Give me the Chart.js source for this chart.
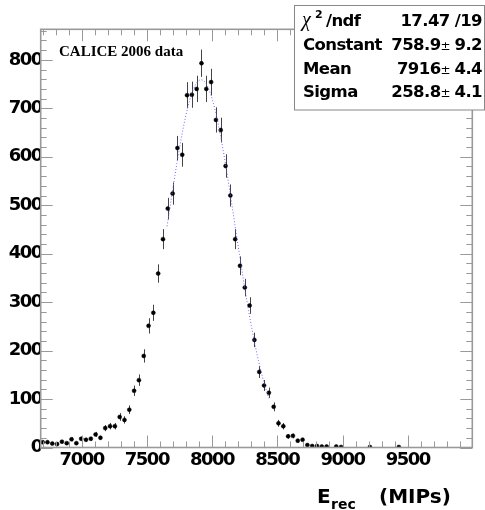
<!DOCTYPE html>
<html>
<head>
<meta charset="utf-8">
<script src="https://cdn.jsdelivr.net/npm/chart.js@4.4.1/dist/chart.umd.min.js"></script>
<style>
  html, body { margin: 0; padding: 0; background: #fff; }
  #wrap { width: 485px; height: 510px; position: relative; }
</style>
</head>
<body>
<div id="wrap"><canvas id="erec"></canvas></div>
<script>
// reconstructed energy, one entry per bin (empty bins are null)
var binFirst = 6701;
var binWidth = 36.9;
var counts = [
  11, 11, 8, 7, 12, 9, 17, 9, 18, 16,
  18, 27, 20, 40, 44, 44, 63, 57, 78, 117,
  139, 189, 251, 278, 359, 430, 493, 524, 618, 604,
  727, 728, 740, 793, 740, 754, 676, 655, 581, 520,
  430, 375, 330, 293, 222, 156, 128, 113, 84, 50,
  44, 23, 24, 14, 16, 5, 3, 3, 2, 2,
  null, 2, 1, null, null, null, null, null, 1, null,
  null, null, null, null, 1
];

var xTickLabels = [7000, 7500, 8000, 8500, 9000, 9500];
var yTickLabels = [0, 100, 200, 300, 400, 500, 600, 700, 800];

// gaus fit result
var fitConst = 758.9;
var fitMean = 7916;
var fitSigma = 258.8;
var fitFrom = 7655;
var fitTo = 8435;

var statRows = [
  ['Constant', '758.9', '9.2'],
  ['Mean', '7916', '4.4'],
  ['Sigma', '258.8', '4.1']
];
var chiText = '17.47 /19';

var histPoints = [];
counts.forEach(function (c, i) {
  if (c !== null) histPoints.push({ x: binFirst + i * binWidth, y: c });
});

var fitPoints = [];
for (var e = fitFrom; e <= fitTo; e += 5) {
  var d = (e - fitMean) / fitSigma;
  fitPoints.push({ x: e, y: fitConst * Math.exp(-0.5 * d * d) });
}

var sans = '"DejaVu Sans", sans-serif';

// sqrt(N) error bars under the markers
var errorBars = {
  id: 'errorBars',
  beforeDraw: function (chart) {
    // tight heavy digits for the axis labels
    chart.ctx.letterSpacing = '-1.5px';
  },
  beforeDatasetsDraw: function (chart) {
    var ctx = chart.ctx, xs = chart.scales.x, ys = chart.scales.y;
    ctx.save();
    ctx.strokeStyle = '#444';
    ctx.lineWidth = 1;
    histPoints.forEach(function (p) {
      var err = Math.sqrt(p.y);
      var px = Math.round(xs.getPixelForValue(p.x)) + 0.5;
      ctx.beginPath();
      ctx.moveTo(px, ys.getPixelForValue(p.y + err));
      ctx.lineTo(px, ys.getPixelForValue(Math.max(0, p.y - err)));
      ctx.stroke();
    });
    ctx.restore();
  }
};

// frame with ticks pointing inwards on all four sides
var frame = {
  id: 'frame',
  afterDatasetsDraw: function (chart) {
    var ctx = chart.ctx, a = chart.chartArea, xs = chart.scales.x, ys = chart.scales.y;
    ctx.save();
    ctx.strokeStyle = '#999';
    ctx.lineWidth = 1;
    ctx.beginPath();
    for (var v = 6700; v <= 9900; v += 100) {
      var px = Math.round(xs.getPixelForValue(v)) + 0.5;
      var len = v % 500 === 0 ? 12 : 6;
      ctx.moveTo(px, a.bottom); ctx.lineTo(px, a.bottom - len);
      ctx.moveTo(px, a.top); ctx.lineTo(px, a.top + len);
    }
    for (var w = 0; w <= 860; w += 20) {
      var py = Math.round(ys.getPixelForValue(w)) + 0.5;
      var l2 = w % 100 === 0 ? 12 : 6;
      ctx.moveTo(a.left, py); ctx.lineTo(a.left + l2, py);
      ctx.moveTo(a.right, py); ctx.lineTo(a.right - l2, py);
    }
    ctx.stroke();
    ctx.lineWidth = 1.6;
    ctx.strokeRect(a.left, a.top, a.right - a.left, a.bottom - a.top);
    ctx.restore();
  },
  afterDraw: function (chart) {
    var ctx = chart.ctx;
    ctx.save();
    ctx.fillStyle = '#000';
    ctx.textBaseline = 'alphabetic';
    ctx.letterSpacing = '0px';

    ctx.font = 'bold 15px "Liberation Serif", serif';
    ctx.textAlign = 'left';
    ctx.fillText('CALICE 2006 data', 59, 56);

    // axis title
    ctx.font = 'bold 20px ' + sans;
    ctx.fillText('E', 317, 503);
    ctx.fillText('(MIPs)', 379, 503);
    ctx.font = 'bold 14px ' + sans;
    ctx.fillText('rec', 331, 509);

    // fit statistics box
    ctx.fillStyle = '#fff';
    ctx.fillRect(294.5, 5.5, 190, 104.5);
    ctx.strokeStyle = '#888';
    ctx.lineWidth = 1;
    ctx.strokeRect(294.5, 5.5, 190, 104.5);

    ctx.fillStyle = '#000';
    ctx.font = 'italic 20px "Liberation Serif", serif';
    ctx.fillText('\u03c7', 302, 26);
    ctx.font = 'bold 11px ' + sans;
    ctx.fillText('2', 315, 18);
    ctx.letterSpacing = '-0.6px';
    ctx.font = 'bold 16.5px ' + sans;
    ctx.fillText('/ndf', 326, 26);
    ctx.textAlign = 'right';
    ctx.fillText(chiText, 482, 26);

    var base = [49.5, 73.5, 97];
    statRows.forEach(function (r, i) {
      var y = base[i];
      ctx.textAlign = 'left';
      ctx.letterSpacing = '-0.6px';
      ctx.font = 'bold 16.5px ' + sans;
      ctx.fillText(r[0], 303, y);
      ctx.textAlign = 'right';
      ctx.fillText(r[2], 482, y);
      var x = 482 - ctx.measureText(r[2]).width - 4;
      ctx.letterSpacing = '0px';
      ctx.font = '12px ' + sans;
      ctx.fillText('\u00b1', x, y);
      x -= ctx.measureText('\u00b1').width;
      ctx.letterSpacing = '-0.6px';
      ctx.font = 'bold 16.5px ' + sans;
      ctx.fillText(r[1], x, y);
    });
    ctx.restore();
  }
};

new Chart('erec', {
  type: 'scatter',
  data: {
    datasets: [{
      data: fitPoints,
      showLine: true,
      borderColor: '#6666ff',
      borderWidth: 1,
      borderDash: [1, 2],
      pointRadius: 0,
      order: 0
    }, {
      data: histPoints,
      pointRadius: 2,
      pointBackgroundColor: '#000',
      pointBorderColor: '#000',
      pointBorderWidth: 0.5,
      order: 1
    }]
  },
  options: {
    responsive: true,
    maintainAspectRatio: false,
    devicePixelRatio: 1,
    animation: false,
    layout: { padding: { left: 0, right: 12.7, top: 29.3, bottom: 0 } },
    plugins: { legend: { display: false }, tooltip: { enabled: false } },
    scales: {
      x: {
        type: 'linear',
        min: 6686,
        max: 9995,
        grid: { display: false, drawTicks: false },
        border: { display: false },
        afterBuildTicks: function (s) { s.ticks = xTickLabels.map(function (v) { return { value: v }; }); },
        afterFit: function (s) { s.height = 62.5; },
        ticks: {
          autoSkip: false, maxRotation: 0, padding: 2, color: '#000',
          font: { family: sans, weight: 'bold', size: 18 },
          callback: function (v) { return String(v); }
        }
      },
      y: {
        type: 'linear',
        min: 0,
        max: 863,
        grid: { display: false, drawTicks: false },
        border: { display: false },
        afterBuildTicks: function (s) { s.ticks = yTickLabels.map(function (v) { return { value: v }; }); },
        afterFit: function (s) { s.width = 40.7; },
        ticks: {
          padding: -1, color: '#000',
          font: { family: sans, weight: 'bold', size: 18 },
          callback: function (v) { return String(v); }
        }
      }
    }
  },
  plugins: [errorBars, frame]
});
</script>
</body>
</html>
